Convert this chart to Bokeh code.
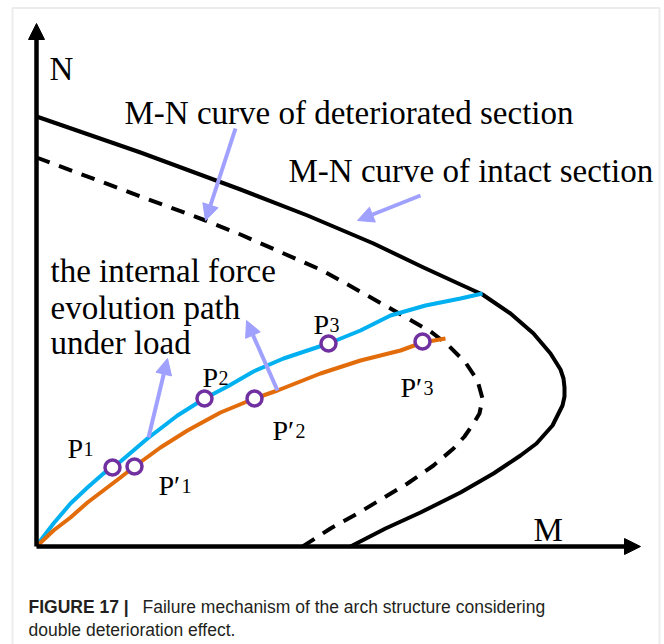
from bokeh.plotting import figure
from bokeh.models import Range1d, Arrow, NormalHead, BoxAnnotation, ColumnDataSource
from bokeh.core.properties import value
from bokeh.embed import file_html
from bokeh.resources import INLINE

# ---- data (M = bending moment, N = axial force; arbitrary units) ----
intact_M = [0.00, 1.04, 2.04, 2.71, 3.37, 3.87, 4.24, 4.46, 4.74, 4.97, 5.14, 5.24, 5.27,
            5.28, 5.28, 5.26, 5.16, 5.00, 4.84, 4.57, 4.24, 3.84, 3.49, 3.14]
intact_N = [4.30, 3.94, 3.57, 3.31, 3.03, 2.79, 2.62, 2.52, 2.33, 2.13, 1.93, 1.77, 1.68,
            1.59, 1.50, 1.41, 1.21, 1.03, 0.91, 0.73, 0.54, 0.34, 0.18, 0.00]

deter_M = [0.00, 1.07, 1.69, 2.04, 2.86, 3.54, 3.94, 4.11, 4.29, 4.41, 4.46, 4.43, 4.37,
           4.28, 4.17, 3.97, 3.71, 3.21, 2.94, 2.66]
deter_N = [3.89, 3.49, 3.26, 3.12, 2.76, 2.38, 2.15, 2.02, 1.84, 1.66, 1.48, 1.33, 1.23,
           1.10, 0.98, 0.81, 0.63, 0.33, 0.18, 0.00]

path_intact_M = [0.00, 0.04, 0.17, 0.34, 0.51, 0.67, 0.76, 0.84, 1.11, 1.41, 1.68, 1.91,
                 2.17, 2.47, 2.92, 3.24, 3.54, 3.89, 4.24, 4.46]
path_intact_N = [0.00, 0.06, 0.23, 0.43, 0.59, 0.73, 0.79, 0.85, 1.08, 1.31, 1.48, 1.60,
                 1.75, 1.88, 2.03, 2.16, 2.31, 2.41, 2.48, 2.53]

path_deter_M = [0.00, 0.17, 0.34, 0.51, 0.84, 0.98, 1.24, 1.51, 1.84, 2.18, 2.41, 2.84,
                3.24, 3.64, 3.86, 4.09]
path_deter_N = [0.00, 0.16, 0.29, 0.44, 0.69, 0.80, 0.99, 1.16, 1.34, 1.48, 1.56, 1.73,
                1.86, 1.96, 2.04, 2.08]

pt_names = ["P", "P′", "P", "P′", "P", "P′"]
pt_subs = ["1", "1", "2", "2", "3", "3"]
pt_M = [0.76, 0.98, 1.68, 2.18, 2.92, 3.86]
pt_N = [0.79, 0.80, 1.48, 1.48, 2.03, 2.05]

# label anchors
lab_M = [0.31, 1.22, 1.66, 2.36, 2.77, 3.64]
lab_N = [0.98, 0.61, 1.69, 1.16, 2.22, 1.59]

# pointer arrows (start M, start N, end M, end N)
ptr_M0 = [1.12, 2.41, 1.99, 3.84]
ptr_N0 = [1.09, 1.56, 4.18, 3.51]
ptr_M1 = [1.31, 2.10, 1.69, 3.21]
ptr_N1 = [1.88, 2.26, 3.26, 3.26]

texts = ["M-N curve of deteriorated section", "M-N curve of intact section",
         "the internal force", "evolution path", "under load"]
text_M = [0.88, 2.52, 0.14, 0.14, 0.14]
text_N = [4.34, 3.76, 2.76, 2.39, 2.04]

p = figure(width=664, height=644, x_range=Range1d(-0.36, 6.28), y_range=Range1d(-0.98, 5.46),
           min_border=0, toolbar_location=None, output_backend="svg")
p.axis.visible = False
p.grid.visible = False
p.outline_line_color = None
p.background_fill_color = "white"

# frame
p.add_layout(BoxAnnotation(left=-0.24, right=6.23, top=5.385, bottom=-1.5, fill_alpha=0,
                           line_color="#c0c0c0", line_width=2))

# axes arrows
p.add_layout(Arrow(x_start=0, y_start=0, x_end=0, y_end=5.23, line_width=4.5, line_color="black",
                   end=NormalHead(size=16, fill_color="black", line_color="black", line_width=1)))
p.add_layout(Arrow(x_start=0, y_start=0, x_end=6.04, y_end=0, line_width=4.5, line_color="black",
                   end=NormalHead(size=16, fill_color="black", line_color="black", line_width=1)))

# curves
p.line(intact_M, intact_N, line_color="black", line_width=4, line_join="round")
p.line(deter_M, deter_N, line_color="black", line_width=4, line_dash="14 10", line_join="round")
p.line(path_intact_M, path_intact_N, line_color="#00b0f0", line_width=4, line_join="round")
p.line(path_deter_M, path_deter_N, line_color="#e36c0a", line_width=4, line_join="round")

# pointer arrows
purple_light = "#a0a0ff"
for x0, y0, x1, y1 in zip(ptr_M0, ptr_N0, ptr_M1, ptr_N1):
    p.add_layout(Arrow(x_start=x0, y_start=y0, x_end=x1, y_end=y1, line_width=4,
                       line_color=purple_light,
                       end=NormalHead(size=16, fill_color=purple_light, line_color=purple_light,
                                      line_width=1)))

# points
p.scatter(pt_M, pt_N, marker="circle", size=15, fill_color="white", line_color="#7030a0",
          line_width=3.5)

serif = value("Liberation Serif")
src_lab = ColumnDataSource(dict(x=lab_M, y=lab_N, t=pt_names))
p.text(x="x", y="y", text="t", source=src_lab, text_font=serif, text_font_size="28px",
       text_color="black", text_baseline="alphabetic", text_align="left")
sub_off = [16 if n == "P" else 23 for n in pt_names]
src_sub = ColumnDataSource(dict(x=lab_M, y=lab_N, t=pt_subs, off=sub_off))
p.text(x="x", y="y", text="t", source=src_sub, x_offset="off", text_font=serif,
       text_font_size="20px", text_color="black", text_baseline="alphabetic", text_align="left")

src_txt = ColumnDataSource(dict(x=text_M, y=text_N, t=texts))
p.text(x="x", y="y", text="t", source=src_txt, text_font=serif, text_font_size="33px",
       text_color="black", text_baseline="alphabetic", text_align="left")

p.text(x=[0.13], y=[4.78], text=["N"], text_font=serif, text_font_size="33px",
       text_color="black", text_baseline="alphabetic", text_align="left")
p.text(x=[4.97], y=[0.17], text=["M"], text_font=serif, text_font_size="33px",
       text_color="black", text_baseline="alphabetic", text_align="left")

# caption
sans = value("Liberation Sans")
p.text(x=[-0.08], y=[-0.60], text=["FIGURE 17 |"], text_font=sans, text_font_size="17.5px",
       text_font_style="bold", text_color="#231f20", text_baseline="alphabetic", text_align="left")
p.text(x=[1.06], y=[-0.60], text=["Failure mechanism of the arch structure considering"],
       text_font=sans, text_font_size="17.5px", text_color="#231f20",
       text_baseline="alphabetic", text_align="left")
p.text(x=[-0.08], y=[-0.83], text=["double deterioration effect."], text_font=sans,
       text_font_size="17.5px", text_color="#231f20", text_baseline="alphabetic", text_align="left")

open("out.html", "w").write(file_html(p, INLINE))
